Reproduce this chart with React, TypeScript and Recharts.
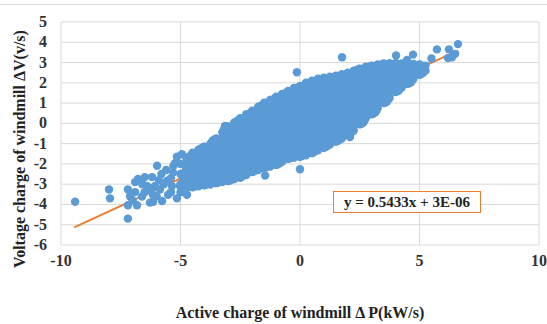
import React from "react";
import { ScatterChart, Scatter, XAxis, YAxis, CartesianGrid, ReferenceLine } from "recharts";

const BLUE = "#5b9bd5";
const ORANGE = "#ed7d31";
const FONT = "Liberation Serif, DejaVu Serif, serif";

const xTicks = [-10, -5, 0, 5, 10];
const yTicks = [5, 4, 3, 2, 1, 0, -1, -2, -3, -4, -5, -6];

// dense body of the cloud, one column per x value
const coreX = [-4.5, -4, -3.5, -3, -2.5, -2, -1.5, -1, -0.5, 0, 0.5, 1, 1.5, 2, 2.5, 3, 3.5, 4, 4.5, 5];
const coreY = [
  [-2.9, -2.4, -1.8],
  [-2.8, -2.3, -1.8, -1.4],
  [-2.7, -2.2, -1.7, -1.2, -1.0],
  [-2.6, -2.1, -1.6, -1.1, -0.6, -0.4],
  [-2.4, -1.9, -1.4, -0.9, -0.4, -0.05],
  [-2.15, -1.65, -1.15, -0.65, -0.15, 0.3],
  [-1.95, -1.45, -0.95, -0.45, 0.05, 0.5, 0.7],
  [-1.8, -1.3, -0.8, -0.3, 0.2, 0.7, 1.0],
  [-1.5, -1.0, -0.5, 0, 0.5, 1.0, 1.3],
  [-1.4, -0.9, -0.4, 0.1, 0.6, 1.1, 1.55],
  [-1.2, -0.7, -0.2, 0.3, 0.8, 1.3, 1.75],
  [-0.95, -0.45, 0.05, 0.55, 1.05, 1.55, 1.95],
  [-0.65, -0.15, 0.35, 0.85, 1.35, 1.85, 2.05],
  [-0.3, 0.2, 0.7, 1.2, 1.7, 2.2],
  [0.2, 0.7, 1.2, 1.7, 2.2, 2.45],
  [0.7, 1.2, 1.7, 2.2, 2.6],
  [1.25, 1.75, 2.25, 2.7],
  [1.8, 2.3, 2.7],
  [2.2, 2.65],
  [2.65],
];

// points along the upper and lower rim of the cloud
const edgeX = [
  -4.5, -4.25, -4, -3.75, -3.5, -3.25, -3, -2.75, -2.5, -2.25, -2, -1.75, -1.5, -1.25, -1, -0.75, -0.5, -0.25, 0, 0.25,
  0.5, 0.75, 1, 1.25, 1.5, 1.75, 2, 2.25, 2.5, 2.75, 3, 3.25, 3.5, 3.75, 4, 4.25, 4.5, 4.75, 5, 5.25,
];
const upperY = [
  -1.45, -1.3, -1.15, -1.0, -0.75, -0.45, -0.15, 0.05, 0.25, 0.45, 0.62, 0.82, 1.02, 1.15, 1.32, 1.45, 1.6, 1.75, 1.85, 2.0,
  2.1, 2.2, 2.25, 2.3, 2.35, 2.42, 2.5, 2.6, 2.7, 2.8, 2.85, 2.9, 2.95, 2.97, 2.98, 2.95, 2.95, 2.93, 2.9, 2.85,
];
const lowerY = [
  -3.15, -3.1, -3.05, -3.02, -2.95, -2.9, -2.85, -2.75, -2.68, -2.55, -2.4, -2.3, -2.2, -2.13, -2.05, -1.9, -1.75, -1.7, -1.65, -1.57,
  -1.47, -1.33, -1.2, -1.05, -0.9, -0.75, -0.55, -0.35, -0.05, 0.25, 0.45, 0.75, 1.0, 1.25, 1.55, 1.75, 1.95, 2.2, 2.4, 2.6,
];

// sparse cluster on the left
const clusterPts = [
  [-4.75, -1.8], [-4.75, -2.2], [-4.75, -2.7], [-4.75, -3.2], [-5.0, -2.0], [-5.0, -2.5], [-5.0, -3.0], [-5.0, -3.4],
  [-7.2, -3.26], [-7.11, -3.61], [-7.2, -4.04], [-6.82, -4.04], [-6.78, -2.74], [-6.49, -2.65], [-6.19, -2.65],
  [-6.4, -3.09], [-6.61, -3.61], [-6.28, -3.91], [-6.15, -3.52], [-5.86, -3.26], [-5.77, -3.83], [-5.56, -2.83],
  [-5.52, -3.52], [-5.31, -2.43], [-5.23, -1.96], [-5.15, -3.7], [-5.02, -3.09], [-4.94, -1.52], [-4.81, -2.39],
  [-4.73, -3.52], [-6.9, -3.39], [-6.07, -3.09], [-5.36, -3.09], [-6.15, -3.87], [-5.15, -1.65],
  [-6.6, -3.0], [-6.9, -2.9], [-5.9, -2.8], [-5.7, -3.0], [-6.3, -3.3], [-5.4, -2.7], [-5.6, -2.3], [-5.8, -2.5],
  [-6.0, -3.6], [-5.4, -3.4], [-7.0, -3.8], [-6.5, -3.4], [-4.9, -2.8], [-5.3, -2.1],
];

const outlierPts = [
  [-9.41, -3.87], [-7.99, -3.26], [-7.95, -3.7], [-7.2, -4.7], [-5.98, -2.09], [-3.14, -0.13], [-0.13, 2.52],
  [1.76, 3.26], [4.02, 3.35], [4.73, 3.39], [4.48, 3.13], [5.73, 3.65], [6.23, 3.65], [6.61, 3.91], [6.19, 3.22],
  [6.49, 3.43], [6.36, 3.26], [5.5, 3.2], [2.09, -0.68], [0.0, -2.26], [-1.46, -2.57],
];

const slope = 0.5433;
const intercept = 0.000003;
const trendX = [-9.45, 6.6];

const coreData = coreX.flatMap((x, i) => coreY[i].map((y) => ({ x, y })));
const edgeData = [
  ...edgeX.map((x, i) => ({ x, y: upperY[i] })),
  ...edgeX.map((x, i) => ({ x, y: lowerY[i] })),
  ...clusterPts.map(([x, y]) => ({ x, y })),
  ...outlierPts.map(([x, y]) => ({ x, y })),
];

const XTick = (p: any) => (
  <text x={p.x} y={p.y + 19} textAnchor="middle" fill="#333" fontSize={16} fontWeight="bold" fontFamily={FONT}>
    {p.payload.value}
  </text>
);

const YTick = (p: any) => (
  <text x={47} y={p.y + 5} textAnchor="end" fill="#333" fontSize={16} fontWeight="bold" fontFamily={FONT}>
    {p.payload.value}
  </text>
);

export default function App() {
  return (
    <div style={{ position: "relative", width: 547, height: 324, background: "#fff", fontFamily: FONT }}>
      <style>{`body { margin: 0; }`}</style>
      <div style={{ position: "absolute", left: 0, top: 4, width: 547, height: 1, background: "#d9d9d9" }} />
      <ScatterChart width={547} height={324} margin={{ top: 22, right: 8, bottom: 49, left: 0 }}>
        <CartesianGrid stroke="#d9d9d9" />
        <XAxis
          type="number"
          dataKey="x"
          domain={[-10, 10]}
          ticks={xTicks}
          interval={0}
          axisLine={false}
          tickLine={false}
          tickSize={0}
          tick={XTick}
        />
        <YAxis
          type="number"
          dataKey="y"
          domain={[-6, 5]}
          ticks={yTicks}
          interval={0}
          width={61}
          axisLine={false}
          tickLine={false}
          tickSize={0}
          tick={YTick}
        />
        <Scatter
          data={coreData}
          isAnimationActive={false}
          shape={(p: any) => <circle cx={p.cx} cy={p.cy} r={9} fill={BLUE} />}
        />
        <Scatter
          data={edgeData}
          isAnimationActive={false}
          shape={(p: any) => <circle cx={p.cx} cy={p.cy} r={4.2} fill={BLUE} />}
        />
        <ReferenceLine
          segment={[
            { x: trendX[0], y: slope * trendX[0] + intercept },
            { x: trendX[1], y: slope * trendX[1] + intercept },
          ]}
          stroke={ORANGE}
          strokeWidth={2}
        />
      </ScatterChart>
      <div
        style={{
          position: "absolute",
          left: 333,
          top: 191,
          width: 146,
          height: 20,
          border: `1px solid ${ORANGE}`,
          background: "#fff",
          fontSize: 15,
          fontWeight: "bold",
          color: "#222",
          lineHeight: "20px",
          textAlign: "center",
          whiteSpace: "nowrap",
        }}
      >
        y = 0.5433x + 3E-06
      </div>
      <div
        style={{
          position: "absolute",
          left: 0,
          top: 304,
          width: 600,
          fontSize: 16,
          fontWeight: "bold",
          color: "#222",
          textAlign: "center",
          whiteSpace: "nowrap",
        }}
      >
        Active charge of windmill Δ P(kW/s)
      </div>
      <div
        style={{
          position: "absolute",
          left: 20,
          top: 149,
          fontSize: 16,
          fontWeight: "bold",
          color: "#222",
          whiteSpace: "nowrap",
          transform: "translate(-50%, -50%) rotate(-90deg)",
        }}
      >
        Voltage charge of windmill ΔV(v/s)
      </div>
    </div>
  );
}
